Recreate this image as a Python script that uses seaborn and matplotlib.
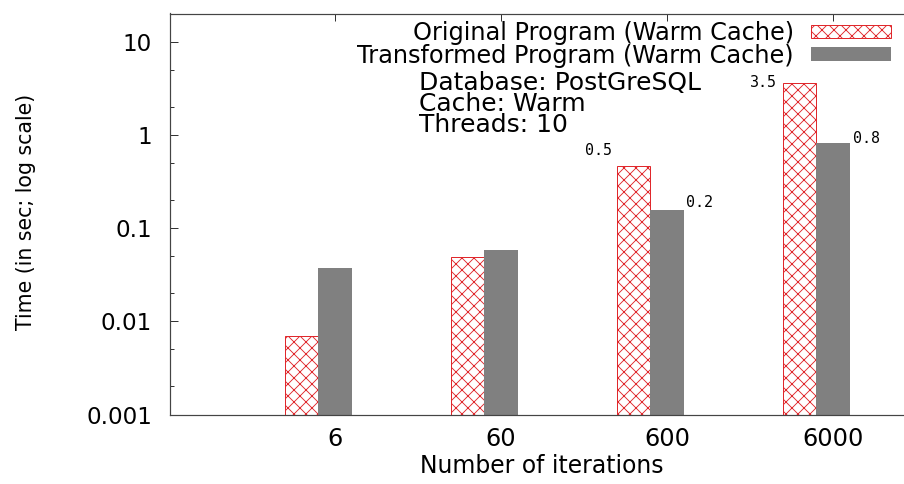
import matplotlib
matplotlib.use("Agg")
import matplotlib.pyplot as plt
from matplotlib.ticker import LogLocator, NullFormatter, FixedLocator
import seaborn as sns
import pandas as pd

iterations = ["6", "60", "600", "6000"]
series_names = ["Original Program (Warm Cache)", "Transformed Program (Warm Cache)"]
original = [0.007, 0.049, 0.47, 3.65]
transformed = [0.037, 0.059, 0.157, 0.82]
original_labels = ["", "", "0.5", "3.5"]
transformed_labels = ["", "", "0.2", "0.8"]
y_ticks = [0.001, 0.01, 0.1, 1, 10]
y_tick_labels = ["0.001", "0.01", "0.1", "1", "10"]
notes = ["Database: PostGreSQL", "Cache: Warm", "Threads: 10"]

df = pd.DataFrame({
    "iter": iterations * 2,
    "time": original + transformed,
    "series": [series_names[0]] * 4 + [series_names[1]] * 4,
})

sns.set_style("ticks")
plt.rcParams["font.family"] = ["DejaVu Sans"]
plt.rcParams["hatch.linewidth"] = 0.9
plt.rcParams["text.color"] = "black"
plt.rcParams["axes.labelcolor"] = "black"

DPI = 72
fig = plt.figure(figsize=(904 / DPI, 484 / DPI), dpi=DPI)
ax = fig.add_axes([170 / 904, (484 - 414.5) / 484, 734 / 904, 401 / 484])

RED = "#e0282c"
GRAY = "#808080"
sns.barplot(data=df, x="iter", y="time", hue="series", order=iterations,
            hue_order=series_names, palette=[RED, GRAY], width=0.4,
            dodge=True, log_scale=True, ax=ax, legend=False, saturation=1)

for p in ax.containers[0].patches:
    p.set_facecolor("white")
    p.set_edgecolor(RED)
    p.set_hatch("xx")
    p.set_linewidth(1.0)
for p in ax.containers[1].patches:
    p.set_facecolor(GRAY)
    p.set_edgecolor(GRAY)
    p.set_linewidth(0)

ax.set_yscale("log")
ax.set_ylim(0.001, 20.2)
ax.set_xlim(-0.894, 3.528)

ax.yaxis.set_major_locator(FixedLocator(y_ticks))
ax.set_yticklabels(y_tick_labels)
ax.yaxis.set_minor_locator(LogLocator(base=10, subs=(2, 5)))
ax.yaxis.set_minor_formatter(NullFormatter())
ax.set_xticks([i + 0.1 for i in range(len(iterations))])
ax.set_xticklabels(iterations)

ax.tick_params(axis="both", which="major", direction="in", length=8, width=1,
               color="#333333", labelcolor="black")
ax.tick_params(axis="y", which="major", pad=18, labelsize=23)
ax.tick_params(axis="x", which="major", pad=13, top=True, length=7, labelsize=24)
ax.tick_params(axis="y", which="minor", direction="in", length=4, width=1, color="#333333")

for s in ["left", "bottom", "top"]:
    ax.spines[s].set_color("#444444")
    ax.spines[s].set_linewidth(1.2)
ax.spines["right"].set_visible(False)

ax.set_xlabel("Number of iterations", fontsize=23.5)
ax.xaxis.set_label_coords((542 - 170) / 734, (414.5 - 466) / 401)
ax.xaxis.label.set_va("center")
ax.set_ylabel("Time (in sec; log scale)", fontsize=20.5)
ax.yaxis.set_label_coords((26 - 170) / 734, (414.5 - 212) / 401)
ax.yaxis.label.set_va("center")

orig_offsets = [(0, 0), (0, 0), (-5, 15), (-6, 0)]
trans_offsets = [(0, 0), (0, 0), (2, 7), (3, 5)]
for p, lab, off in zip(ax.containers[0].patches, original_labels, orig_offsets):
    if lab:
        ax.annotate(lab, (p.get_x(), p.get_height()), xytext=off,
                    textcoords="offset points", ha="right", va="center",
                    fontsize=15, family="DejaVu Sans Mono")
for p, lab, off in zip(ax.containers[1].patches, transformed_labels, trans_offsets):
    if lab:
        ax.annotate(lab, (p.get_x() + p.get_width(), p.get_height()), xytext=off,
                    textcoords="offset points", ha="left", va="center",
                    fontsize=15, family="DejaVu Sans Mono")

ax.text(0.339, (414.5 - 71) / 401, "\n".join(notes), transform=ax.transAxes,
        ha="left", va="top", fontsize=25, linespacing=0.85)

leg = ax.legend(handles=[ax.containers[0].patches[0], ax.containers[1].patches[0]],
                labels=series_names, loc="upper right",
                bbox_to_anchor=((891 - 170) / 734, (414.5 - 21) / 401),
                frameon=False, markerfirst=False, fontsize=24, labelspacing=-0.06,
                handlelength=3.35, handleheight=0.5, handletextpad=0.7,
                borderpad=0, borderaxespad=0)

fig.savefig("out.png", dpi=DPI)
